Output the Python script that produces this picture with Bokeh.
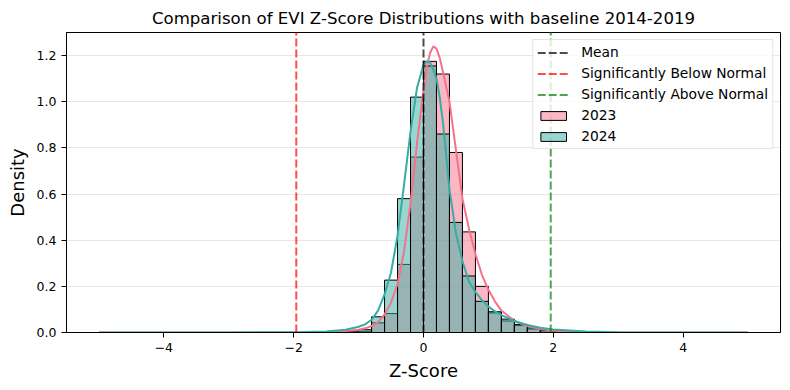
import math
from bokeh.plotting import figure
from bokeh.models import Legend, LegendItem, FixedTicker, Range1d
from bokeh.embed import file_html
from bokeh.resources import INLINE

# ---- data ----
bin_left = [-1.2, -1.0, -0.8, -0.6, -0.4, -0.2, 0.0, 0.2, 0.4, 0.6, 0.8, 1.0, 1.2, 1.4, 1.6, 1.8, 2.0]
bin_width = 0.2
density_2023 = [0.001, 0.005, 0.042, 0.082, 0.295, 0.76, 1.175, 1.12, 0.78, 0.436, 0.20, 0.085, 0.05, 0.03, 0.015, 0.007, 0.003]
density_2024 = [0.003, 0.012, 0.068, 0.227, 0.58, 1.02, 1.155, 0.86, 0.477, 0.245, 0.135, 0.09, 0.058, 0.035, 0.02, 0.01, 0.005]

kde_x = [-5.0, -3.0, -2.0, -1.5, -1.2, -1.0, -0.9, -0.8, -0.7, -0.6, -0.5, -0.4, -0.3, -0.2, -0.1,
         0.0, 0.05, 0.1, 0.15, 0.2, 0.25, 0.3, 0.4, 0.5, 0.6, 0.7, 0.8, 0.9, 1.0, 1.1, 1.2, 1.4,
         1.6, 1.8, 2.0, 2.5, 3.0, 5.0]
kde_2023 = [0.0, 0.0002, 0.0005, 0.002, 0.006, 0.012, 0.018, 0.028, 0.045, 0.078, 0.13, 0.21, 0.35,
            0.56, 0.82, 1.05, 1.15, 1.21, 1.24, 1.23, 1.19, 1.13, 1.0, 0.79, 0.58, 0.45, 0.34, 0.25,
            0.185, 0.135, 0.095, 0.05, 0.028, 0.015, 0.008, 0.002, 0.0005, 0.0]
kde_2024 = [0.0, 0.0003, 0.001, 0.004, 0.012, 0.025, 0.035, 0.055, 0.095, 0.165, 0.26, 0.42, 0.64,
            0.87, 1.06, 1.16, 1.175, 1.17, 1.14, 1.1, 1.02, 0.91, 0.62, 0.43, 0.31, 0.22, 0.175, 0.14,
            0.112, 0.092, 0.075, 0.05, 0.033, 0.021, 0.013, 0.004, 0.0015, 0.0]

mean_z = 0.0
below_z = -1.96
above_z = 1.96

x_ticks = [-4, -2, 0, 2, 4]
x_tick_labels = ["\u22124", "\u22122", "0", "2", "4"]
y_ticks = [0.0, 0.2, 0.4, 0.6, 0.8, 1.0, 1.2]
y_tick_labels = ["0.0", "0.2", "0.4", "0.6", "0.8", "1.0", "1.2"]

c23 = "#f77189"
c24 = "#36ada4"
FONT = "DejaVu Sans"

p = figure(width=790, height=390, output_backend="svg", toolbar_location=None,
           x_range=Range1d(-5.5, 5.5), y_range=Range1d(0, 1.3),
           title="Comparison of EVI Z-Score Distributions with baseline 2014-2019",
           min_border_left=66, min_border_right=10, min_border_top=32, min_border_bottom=58)

p.title.align = "center"
p.title.text_font = FONT
p.title.text_font_size = "16.6px"
p.title.text_font_style = "normal"
p.title.text_color = "black"

r23 = p.quad(left=bin_left, right=[b + bin_width for b in bin_left], bottom=0, top=density_2023,
             fill_color=c23, fill_alpha=0.5, line_color="black", line_width=1)
r24 = p.quad(left=bin_left, right=[b + bin_width for b in bin_left], bottom=0, top=density_2024,
             fill_color=c24, fill_alpha=0.5, line_color="black", line_width=1)

p.line(kde_x, kde_2023, line_color=c23, line_width=2)
p.line(kde_x, kde_2024, line_color=c24, line_width=2)

rm = p.ray(x=[mean_z], y=[0], length=0, angle=math.pi / 2, line_color="black", line_alpha=0.7,
           line_width=2, line_dash="8 3")
rb = p.ray(x=[below_z], y=[0], length=0, angle=math.pi / 2, line_color="red", line_alpha=0.7,
           line_width=2, line_dash="8 3")
ra = p.ray(x=[above_z], y=[0], length=0, angle=math.pi / 2, line_color="green", line_alpha=0.7,
           line_width=2, line_dash="8 3")

legend = Legend(items=[
    LegendItem(label="Mean", renderers=[rm]),
    LegendItem(label="Significantly Below Normal", renderers=[rb]),
    LegendItem(label="Significantly Above Normal", renderers=[ra]),
    LegendItem(label="2023", renderers=[r23]),
    LegendItem(label="2024", renderers=[r24]),
], location="top_right")
legend.label_text_font = FONT
legend.label_text_font_size = "13.8px"
legend.label_text_color = "black"
legend.glyph_width = 32
legend.glyph_height = 11
legend.label_height = 16
legend.spacing = 5
legend.padding = 4
legend.margin = 7
legend.label_standoff = 12
legend.border_line_color = "#cccccc"
legend.border_line_width = 1
legend.background_fill_alpha = 0.8
p.add_layout(legend)

p.xaxis.ticker = FixedTicker(ticks=x_ticks)
p.xaxis.major_label_overrides = dict(zip(x_ticks, x_tick_labels))
p.yaxis.ticker = FixedTicker(ticks=y_ticks)
p.yaxis.major_label_overrides = dict(zip(y_ticks, y_tick_labels))

for ax in (p.xaxis, p.yaxis):
    ax.axis_line_color = "black"
    ax.major_tick_line_color = "black"
    ax.major_tick_out = 5
    ax.major_tick_in = 0
    ax.minor_tick_line_color = None
    ax.major_label_text_font = FONT
    ax.major_label_text_font_size = "12.5px"
    ax.major_label_text_color = "black"
    ax.axis_label_text_font = FONT
    ax.axis_label_text_font_size = "18px"
    ax.axis_label_text_font_style = "normal"
    ax.axis_label_text_color = "black"

p.xaxis.axis_label = "Z-Score"
p.yaxis.axis_label = "Density"
p.xaxis.major_label_standoff = 5
p.yaxis.major_label_standoff = 5
p.xaxis.axis_label_standoff = 5
p.yaxis.axis_label_standoff = 6

p.xgrid.visible = False
p.ygrid.grid_line_color = "#b0b0b0"
p.ygrid.grid_line_alpha = 0.3
p.outline_line_color = "black"
p.outline_line_width = 1
p.outline_line_alpha = 1

open("out.html", "w").write(file_html(p, INLINE))
